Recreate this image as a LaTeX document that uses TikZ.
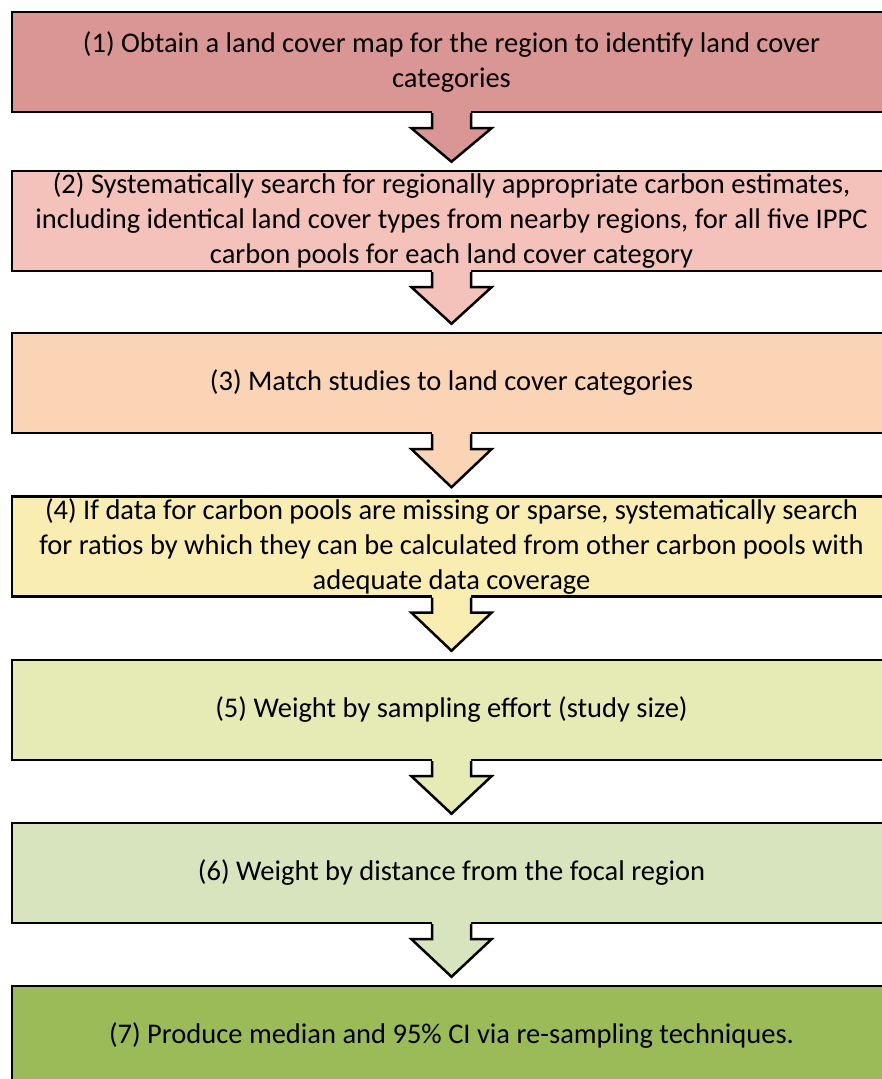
\documentclass[tikz,border=0pt]{standalone}
\usepackage{fontspec}
\setmainfont{Carlito}
\usetikzlibrary{calc}
\definecolor{stepA}{RGB}{217,150,148}
\definecolor{stepB}{RGB}{244,194,187}
\definecolor{stepC}{RGB}{251,211,181}
\definecolor{stepD}{RGB}{249,237,178}
\definecolor{stepE}{RGB}{230,235,181}
\definecolor{stepF}{RGB}{215,228,189}
\definecolor{stepG}{RGB}{155,187,89}
\tikzset{
  stage/.style={draw=black, line width=2.5pt, minimum width=879pt,
    minimum height=100pt, inner sep=0pt, align=center,
    font=\fontsize{28.5}{35}\selectfont},
  downarrow/.style={line width=2.5pt, line join=miter}
}

\begin{document}
\begin{tikzpicture}[x=1pt,y=1pt]
    \useasboundingbox (0,0) rectangle (881,1079);
    \node[stage,fill=stepA] (s1) at (451.5,1017) {(1) Obtain a land cover map for the region to identify land cover\\categories};
    \node[stage,fill=stepB] (s2) at (451.5,858) {(2) Systematically search for regionally appropriate carbon estimates,\\including identical land cover types from nearby regions, for all five IPPC\\carbon pools for each land cover category};
    \node[stage,fill=stepC] (s3) at (451.5,696) {(3) Match studies to land cover categories};
    \node[stage,fill=stepD] (s4) at (451.5,532.5) {(4) If data for carbon pools are missing or sparse, systematically search\\for ratios by which they can be calculated from other carbon pools with\\adequate data coverage};
    \node[stage,fill=stepE] (s5) at (451.5,369) {(5) Weight by sampling effort (study size)};
    \node[stage,fill=stepF] (s6) at (451.5,206) {(6) Weight by distance from the focal region};
    \node[stage,fill=stepG] (s7) at (451.5,43) {(7) Produce median and 95\% CI via re-sampling techniques.};
    % block arrows between the stages
    \foreach \i/\j/\c in {1/2/stepA,2/3/stepB,3/4/stepC,4/5/stepD,5/6/stepE,6/7/stepF}{
      \coordinate (t\i) at ($(s\j.north)+(0,8)$);
      \fill[\c] ($(s\i.south)+(-19.5,3.5)$) -- ($(s\i.south)+(-19.5,-15)$)
        -- ($(s\i.south)+(-40,-15)$) -- (t\i) -- ($(s\i.south)+(40,-15)$)
        -- ($(s\i.south)+(19.5,-15)$) -- ($(s\i.south)+(19.5,3.5)$) -- cycle;
      \draw[downarrow] ($(s\i.south)+(-19.5,0)$) -- ($(s\i.south)+(-19.5,-15)$)
        -- ($(s\i.south)+(-40,-15)$) -- (t\i) -- ($(s\i.south)+(40,-15)$)
        -- ($(s\i.south)+(19.5,-15)$) -- ($(s\i.south)+(19.5,0)$);
    }
\end{tikzpicture}
\end{document}
